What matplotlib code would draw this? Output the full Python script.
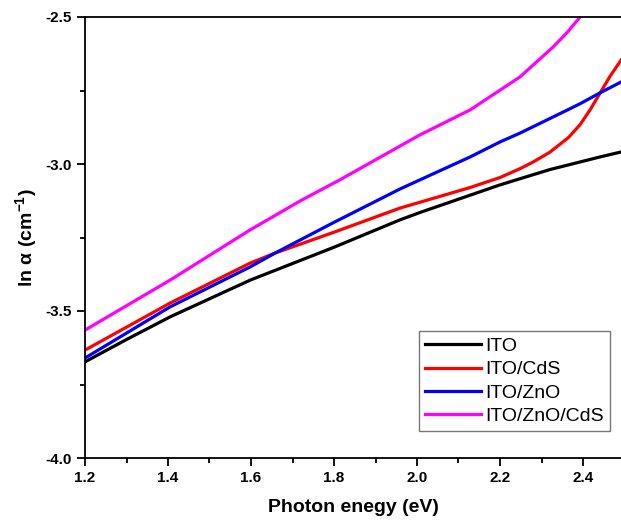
import numpy as np
import matplotlib
matplotlib.use("Agg")
import matplotlib.pyplot as plt
from matplotlib.ticker import MultipleLocator, FormatStrFormatter

plt.rcParams['font.family'] = ['Liberation Sans', 'DejaVu Sans']
plt.rcParams['axes.unicode_minus'] = False
plt.rcParams['mathtext.fontset'] = 'custom'
plt.rcParams['mathtext.rm'] = 'Liberation Sans:bold'
plt.rcParams['mathtext.bf'] = 'Liberation Sans:bold'

# values
x_ito = [1.20, 1.30, 1.405, 1.598, 1.802, 1.959, 2.007, 2.20, 2.32, 2.441, 2.492]
y_ito = [-3.673, -3.597, -3.520, -3.395, -3.282, -3.190, -3.165, -3.071, -3.019, -2.976, -2.959]

x_cds = [1.20, 1.405, 1.598, 1.658, 1.802, 1.959, 2.128, 2.20, 2.248, 2.28, 2.32, 2.365, 2.393, 2.417, 2.441, 2.465, 2.492]
y_cds = [-3.633, -3.473, -3.337, -3.303, -3.231, -3.150, -3.080, -3.046, -3.016, -2.993, -2.960, -2.910, -2.866, -2.816, -2.759, -2.702, -2.646]

x_zno = [1.20, 1.405, 1.598, 1.658, 1.802, 1.959, 2.128, 2.20, 2.248, 2.328, 2.393, 2.441, 2.492]
y_zno = [-3.660, -3.486, -3.350, -3.303, -3.197, -3.085, -2.976, -2.925, -2.895, -2.840, -2.795, -2.758, -2.721]

x_zc = [1.20, 1.405, 1.598, 1.723, 1.814, 2.007, 2.128, 2.248, 2.328, 2.361, 2.393, 2.41]
y_zc = [-3.565, -3.395, -3.224, -3.122, -3.054, -2.901, -2.816, -2.704, -2.602, -2.554, -2.500, -2.470]

fig = plt.figure(figsize=(6.21, 5.21), dpi=100)
ax = fig.add_axes([85 / 621, 63 / 521, 536 / 621, 441 / 521])

ax.plot(x_ito, y_ito, color='black', lw=2.3, label='ITO')
ax.plot(x_cds, y_cds, color='#ff0000', lw=2.3, label='ITO/CdS')
ax.plot(x_zno, y_zno, color='#0000ff', lw=2.3, label='ITO/ZnO')
ax.plot(x_zc, y_zc, color='#ff00ff', lw=2.3, label='ITO/ZnO/CdS')

ax.set_xlim(1.2, 1.2 + 536 / 415)
ax.set_ylim(-4.0, -2.5)
ax.xaxis.set_major_locator(MultipleLocator(0.2))
ax.xaxis.set_minor_locator(MultipleLocator(0.1))
ax.yaxis.set_major_locator(MultipleLocator(0.5))
ax.yaxis.set_minor_locator(MultipleLocator(0.25))
ax.xaxis.set_major_formatter(FormatStrFormatter('%.1f'))
ax.yaxis.set_major_formatter(FormatStrFormatter('%.1f'))

ax.spines['right'].set_visible(False)
for s in ['left', 'bottom', 'top']:
    ax.spines[s].set_linewidth(1.3)
ax.tick_params(which='major', length=6, width=1.3, labelsize=11, direction='out')
ax.tick_params(which='minor', length=3.5, width=1.3, direction='out')
for lbl in ax.get_xticklabels() + ax.get_yticklabels():
    lbl.set_fontweight('bold')

ax.set_xlabel('Photon enegy (eV)', fontsize=14, fontweight='bold', labelpad=10)
ax.set_ylabel(r'ln $\mathregular{\alpha}$ (cm$^{-1}$)', fontsize=14, fontweight='bold', labelpad=4)

leg = ax.legend(loc='lower right', bbox_to_anchor=(0.979, 0.061), fontsize=14,
                frameon=True, fancybox=False, handlelength=2.9, handletextpad=0.2,
                borderpad=0.3, labelspacing=0.3, borderaxespad=0)
leg.get_frame().set_edgecolor('#555555')
leg.get_frame().set_linewidth(1.0)

plt.savefig('out.png', dpi=100)
